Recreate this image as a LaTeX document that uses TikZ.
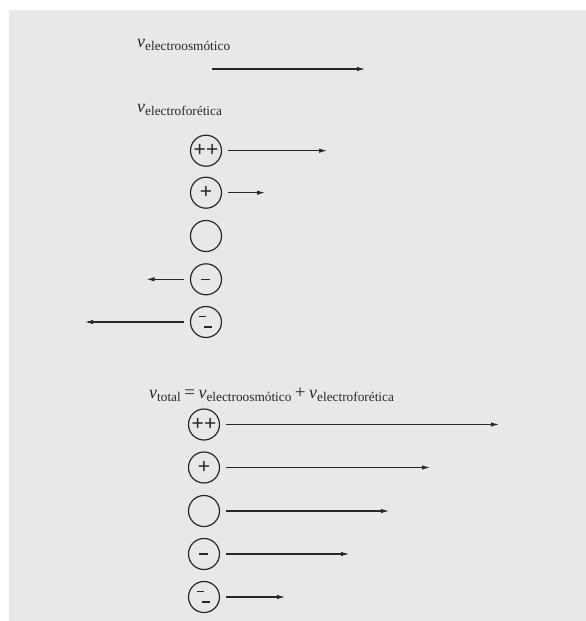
\documentclass[tikz,border=0pt]{standalone}
\usepackage{fontspec}
\setmainfont{Liberation Serif}
\newfontfamily\signfont{Liberation Sans}
\usetikzlibrary{arrows.meta}
\definecolor{bg}{RGB}{232,232,232}
\definecolor{ink}{RGB}{40,40,40}
\newcommand{\vsub}[1]{{\fontsize{18}{18}\selectfont\itshape v}\raisebox{-3.8pt}{\fontsize{13.3}{13.3}\selectfont #1}}
\newcommand{\opsym}[1]{\hspace{3.5pt}{\fontsize{19}{19}\selectfont #1}\hspace{3.5pt}}
\begin{document}
\begin{tikzpicture}[x=1pt,y=-1pt,
  particle/.style={circle,draw=ink,line width=1.2pt,minimum size=31pt,inner sep=0pt,
     font=\signfont\fontsize{21}{21}\selectfont,text=ink},
  sign/.style={draw=ink,line width=1.4pt},
  vel/.style={draw=ink,line width=1.1pt,-{Latex[length=8pt,width=4.5pt]},shorten <=6pt},
  lbl/.style={anchor=base west,inner sep=0pt,text=ink}]
\useasboundingbox (0,0) rectangle (586,621);
\fill[bg] (9,10) rectangle (586,621);

% electroosmotic
\node[lbl] (leo) at (137,47) {\vsub{electroosmótico}};
\coordinate (eo1) at (212,69);
\coordinate (eo2) at (365,69);
\draw[vel,shorten <=0pt] (eo1) -- (eo2);

% electrophoretic
\node[lbl] (lef) at (137,112) {\vsub{electroforética}};
\node[particle] (a1) at (206,150.7) {\raisebox{1pt}{++}};
\node[particle] (a2) at (206,192.7) {\raisebox{1pt}{+}};
\node[particle] (a3) at (206,236) {};
\node[particle] (a4) at (206,279.3) {};
\node[particle] (a5) at (206,322) {};
\draw[sign] ([xshift=-5pt]a4.center) -- ([xshift=4pt]a4.center);
\draw[sign] ([xshift=-7.5pt,yshift=5.3pt]a5.center) -- ([xshift=0pt,yshift=5.3pt]a5.center);
\draw[sign] ([xshift=-2.5pt,yshift=-5pt]a5.center) -- ([xshift=5.5pt,yshift=-5pt]a5.center);
\coordinate (e1) at (327,150.7);
\coordinate (e2) at (265,192.7);
\coordinate (e4) at (146.5,279.3);
\coordinate (e5) at (85,322);
\draw[vel] (a1) -- (e1);
\draw[vel] (a2) -- (e2);
\draw[vel] (a4) -- (e4);
\draw[vel] (a5) -- (e5);

% total
\node[lbl] (lt) at (149,398) {\vsub{total}\opsym{=}\vsub{electroosmótico}\opsym{+}\vsub{electroforética}};
\node[particle] (b1) at (204,424.5) {\raisebox{1pt}{++}};
\node[particle] (b2) at (204,467.5) {\raisebox{1pt}{+}};
\node[particle] (b3) at (204,511) {};
\node[particle] (b4) at (204,554) {};
\node[particle] (b5) at (204,597) {};
\draw[sign] ([xshift=-5pt]b4.center) -- ([xshift=4pt]b4.center);
\draw[sign] ([xshift=-7.5pt,yshift=5.3pt]b5.center) -- ([xshift=0pt,yshift=5.3pt]b5.center);
\draw[sign] ([xshift=-2.5pt,yshift=-5pt]b5.center) -- ([xshift=5.5pt,yshift=-5pt]b5.center);
\coordinate (f1) at (499,424.5);
\coordinate (f2) at (430,467.5);
\coordinate (f3) at (389,511);
\coordinate (f4) at (349,554);
\coordinate (f5) at (285,597);
\draw[vel] (b1) -- (f1);
\draw[vel] (b2) -- (f2);
\draw[vel] (b3) -- (f3);
\draw[vel] (b4) -- (f4);
\draw[vel] (b5) -- (f5);
\end{tikzpicture}
\end{document}
